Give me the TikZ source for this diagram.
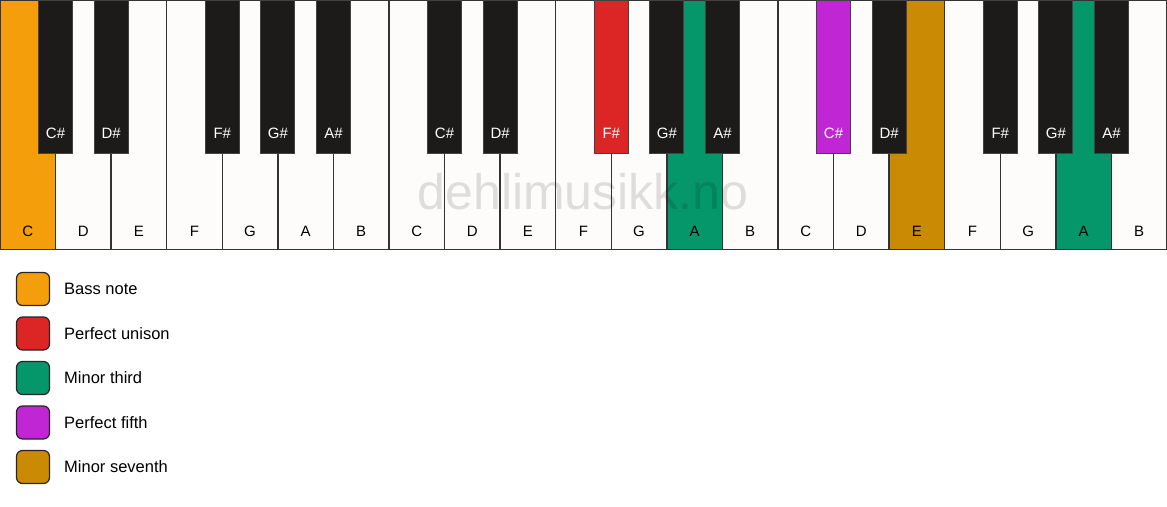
\documentclass[tikz,border=0pt]{standalone}
\usepackage{fontspec}
\setmainfont{Liberation Sans}
\definecolor{keywhite}{HTML}{FDFCFA}
\definecolor{keyblack}{HTML}{1C1B1A}
\definecolor{keyline}{HTML}{333333}
\definecolor{bass}{HTML}{F59E0B}
\definecolor{unison}{HTML}{DC2626}
\definecolor{minthird}{HTML}{059669}
\definecolor{fifth}{HTML}{C026D3}
\definecolor{minseventh}{HTML}{CA8A04}
\tikzset{
  whitekey/.style={draw=keyline, line width=1.5pt, anchor=north west, minimum width=55.5714pt, minimum height=249pt, inner sep=0pt, outer sep=0pt},
  blackkey/.style={draw=keyline!80!gray, line width=1pt, anchor=north, minimum width=34pt, minimum height=153pt, inner sep=0pt, outer sep=0pt},
  keylabel/.style={font=\fontsize{15}{18}\selectfont, inner sep=0pt},
  legbox/.style={draw=black!85, line width=1.2pt, rounded corners=6pt, minimum width=33pt, minimum height=33pt, inner sep=0pt},
  legtext/.style={font=\fontsize{16.5}{20}\selectfont, anchor=west, inner sep=0pt},
  watermark/.style={font=\fontsize{50}{60}\selectfont, text=black, text opacity=0.12, inner sep=0pt}
}
\begin{document}
\begin{tikzpicture}[x=1pt, y=-1pt]
\useasboundingbox (0,0) rectangle (1167,506);
\fill[white] (0,0) rectangle (1167,506);
\foreach \i/\n/\c/\t in {0/C/bass/black,1/D/keywhite/black,2/E/keywhite/black,3/F/keywhite/black,4/G/keywhite/black,5/A/keywhite/black,6/B/keywhite/black,7/C/keywhite/black,8/D/keywhite/black,9/E/keywhite/black,10/F/keywhite/black,11/G/keywhite/black,12/A/minthird/black,13/B/keywhite/black,14/C/keywhite/black,15/D/keywhite/black,16/E/minseventh/black,17/F/keywhite/black,18/G/keywhite/black,19/A/minthird/black,20/B/keywhite/black}{
  \node[whitekey, fill=\c] (w\i) at (\i*55.5714,0.7) {};
  \node[keylabel, text=\t] (wl\i) at (\i*55.5714+27.786,231) {\n};
}
\node[watermark] (wm) at (583,192) {dehlimusikk.no};
\foreach \b/\n/\c in {1/C/keyblack,2/D/keyblack,4/F/keyblack,5/G/keyblack,6/A/keyblack,8/C/keyblack,9/D/keyblack,11/F/unison,12/G/keyblack,13/A/keyblack,15/C/fifth,16/D/keyblack,18/F/keyblack,19/G/keyblack,20/A/keyblack}{
  \node[blackkey, fill=\c] (b\b) at (\b*55.5714,0) {};
  \node[keylabel, text=white] (bl\b) at (\b*55.5714,133) {\n\#};
}
\foreach \k/\c/\t [count=\j from 0] in {1/bass/Bass note,2/unison/Perfect unison,3/minthird/Minor third,4/fifth/Perfect fifth,5/minseventh/Minor seventh}{
  \node[legbox, fill=\c] (lb\k) at (33,289+\j*44.5) {};
  \node[legtext] (lt\k) at (64,289+\j*44.5) {\t};
}
\end{tikzpicture}
\end{document}
